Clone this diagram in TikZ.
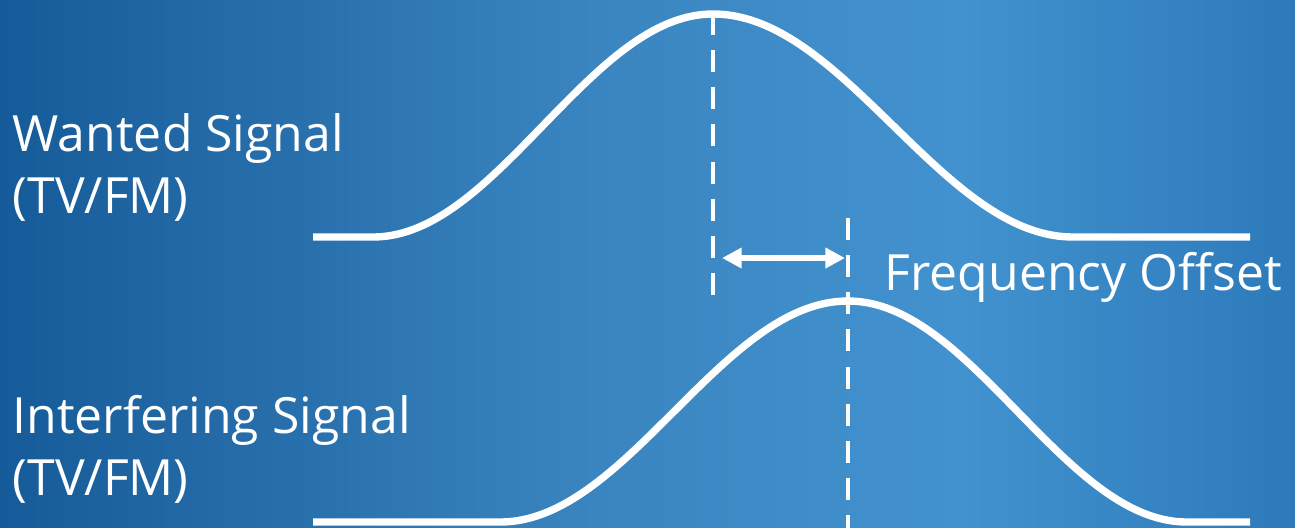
\documentclass[tikz,border=0pt]{standalone}
\usepackage{fontspec}
\setmainfont{Open Sans}
\usepackage{tikz}
\usetikzlibrary{arrows.meta,positioning,calc}
\definecolor{bgleft}{HTML}{165B99}
\definecolor{bgmid}{HTML}{3A85C0}
\definecolor{bglight}{HTML}{4292CF}
\definecolor{bgright}{HTML}{2D7ABA}
\pgfdeclarehorizontalshading{slide}{100bp}{color(0bp)=(bgleft); color(25bp)=(bgleft); color(48bp)=(bgmid); color(62bp)=(bglight); color(75bp)=(bgright); color(100bp)=(bgright)}
\tikzset{
  signal/.style={draw=white,line width=2.1pt,line join=round},
  marker/.style={draw=white,line width=1.4pt,dash pattern=on 6.26pt off 4.3pt},
  offset/.style={{Triangle[length=5.6pt,width=5.6pt]}-{Triangle[length=5.6pt,width=5.6pt]},draw=white,line width=1.5pt},
  label/.style={text=white,font=\fontsize{14.2}{17.6}\selectfont,inner sep=0pt,align=left},
}
\begin{document}
\begin{tikzpicture}[x=0.01cm,y=-0.01cm]
  \useasboundingbox (0,0) rectangle (1295,527);
  \shade[shading=slide] (0,0) rectangle (1295,527);
  % text
  \node[label,anchor=base west] (wanted) at (12,213) {Wanted Signal\\(TV/FM)};
  \node[label,anchor=base west] (interf) at (12,495) {Interfering Signal\\(TV/FM)};
  \node[label,anchor=base west] (foff) at (884,290) {Frequency Offset};
  % centre markers
  \coordinate (wtop) at (713,13);
  \coordinate (wbot) at (713,296);
  \coordinate (itop) at (848,218);
  \coordinate (ibot) at (848,530);
  \draw[marker] (wtop) -- (wbot);
  \draw[marker] (itop) -- (ibot);
  % offset arrow
  \coordinate (offl) at (722,258);
  \coordinate (offr) at (845,258);
  \draw[offset] (offl) -- (offr);
  % wanted signal
  \draw[signal] (313,237) -- (373,237)
    -- plot[domain=373:713,samples=80] (\x,{237-223*(1+cos(180*((\x-713)/340)))/2})
    -- plot[domain=713:1073,samples=80] (\x,{237-223*(1+cos(180*((\x-713)/360)))/2})
    -- (1250,237);
  % interfering signal
  \draw[signal] (313,522) -- (500,522)
    -- plot[domain=500:848,samples=80] (\x,{522-221*(1+cos(180*((\x-848)/348)))/2})
    -- plot[domain=848:1187,samples=80] (\x,{522-221*(1+cos(180*((\x-848)/339)))/2})
    -- (1250,522);
\end{tikzpicture}
\end{document}
